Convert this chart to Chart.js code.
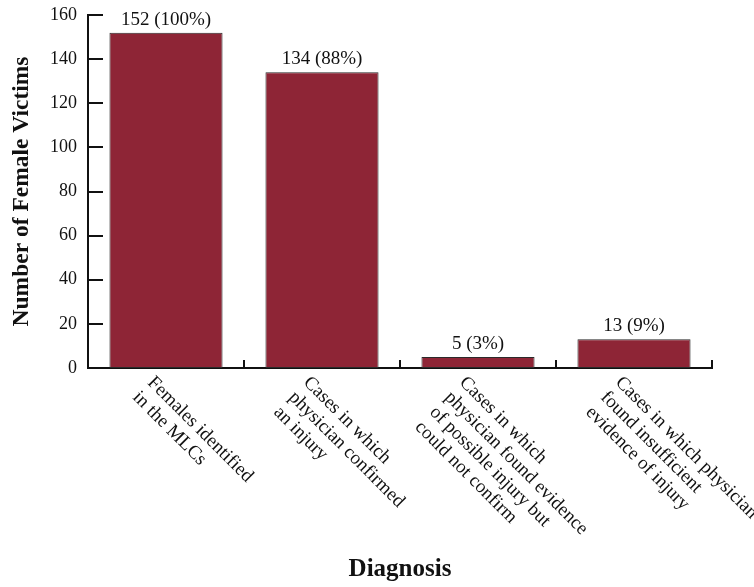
<!DOCTYPE html>
<html>
<head>
<meta charset="utf-8">
<script src="https://cdn.jsdelivr.net/npm/chart.js@4.4.0/dist/chart.umd.min.js"></script>
<style>
  html, body { margin: 0; padding: 0; background: #fff; }
  #wrap { width: 754px; height: 587px; position: relative; }
</style>
</head>
<body>
<div id="wrap"><canvas id="diagChart"></canvas></div>
<script>
// values
const categories = [
	['Females identified', 'in the MLCs'],
	['Cases in which', 'physician confirmed', 'an injury'],
	['Cases in which', 'physician found evidence', 'of possible injury but', 'could not confirm'],
	['Cases in which physician', 'found insufficient', 'evidence of injury']
];
const victims = [152, 134, 5, 13];
const percents = [100, 88, 3, 9];
const yTicks = [0, 20, 40, 60, 80, 100, 120, 140, 160];

const SERIF = '"Liberation Serif", "DejaVu Serif", serif';
const INK = '#111';

// value labels above bars, rotated category labels and inward tick marks
const decorations = {
	id: 'decorations',
	afterDatasetsDraw: (chart) => {
		const ctx = chart.ctx;
		const meta = chart.getDatasetMeta(0);
		ctx.save();
		ctx.font = '19px ' + SERIF;
		ctx.fillStyle = INK;
		ctx.textAlign = 'center';
		ctx.textBaseline = 'alphabetic';
		meta.data.forEach((bar, i) => {
			ctx.fillText(victims[i] + ' (' + percents[i] + '%)', bar.x, bar.y - 8);
		});
		ctx.restore();
	},
	afterDraw: (chart) => {
		const { ctx, chartArea, scales: { x, y } } = chart;
		ctx.save();
		ctx.strokeStyle = INK;
		ctx.lineWidth = 2;

		// y ticks point into the plot
		y.ticks.forEach((t, i) => {
			const py = Math.round(y.getPixelForTick(i));
			ctx.beginPath();
			ctx.moveTo(chartArea.left, py);
			ctx.lineTo(chartArea.left + 15, py);
			ctx.stroke();
		});

		// x ticks at category boundaries, pointing up
		const half = (x.getPixelForTick(1) - x.getPixelForTick(0)) / 2;
		for (let i = 0; i < categories.length; i++) {
			const px = Math.round(x.getPixelForTick(i) + half);
			ctx.beginPath();
			ctx.moveTo(px, chartArea.bottom);
			ctx.lineTo(px, chartArea.bottom - 8);
			ctx.stroke();
		}

		// category labels, rotated 45 degrees clockwise
		ctx.font = '19px ' + SERIF;
		ctx.fillStyle = INK;
		ctx.textAlign = 'left';
		ctx.textBaseline = 'top';
		categories.forEach((lines, i) => {
			const cx = x.getPixelForTick(i);
			ctx.save();
			ctx.translate(cx - 9, chartArea.bottom + 5);
			ctx.rotate(Math.PI / 4);
			lines.forEach((line, j) => ctx.fillText(line, 0, j * 21));
			ctx.restore();
		});
		ctx.restore();
	}
};

new Chart(document.getElementById('diagChart'), {
	type: 'bar',
	data: {
		labels: categories,
		datasets: [{
			label: 'Number of Female Victims',
			data: victims,
			backgroundColor: '#8E2536',
			borderColor: '#2a2a2a',
			borderWidth: 1,
			borderSkipped: false,
			categoryPercentage: 1,
			barPercentage: 0.725
		}]
	},
	options: {
		responsive: true,
		maintainAspectRatio: false,
		animation: false,
		layout: {
			padding: { top: 15, right: 42, left: 0, bottom: 0 }
		},
		plugins: {
			legend: { display: false },
			tooltip: { enabled: false }
		},
		scales: {
			x: {
				grid: { display: false, drawTicks: false },
				border: { display: true, color: INK, width: 2 },
				ticks: { display: false },
				title: {
					display: true,
					text: 'Diagnosis',
					color: INK,
					font: { family: SERIF, size: 25, weight: 'bold' },
					padding: { top: 0, bottom: 2 }
				},
				afterFit: (scale) => { scale.height = 219; }
			},
			y: {
				min: yTicks[0],
				max: yTicks[yTicks.length - 1],
				// tick marks are drawn by the plugin; tickLength only spaces the labels
				grid: { display: false, drawTicks: true, tickLength: 11 },
				border: { display: true, color: INK, width: 2 },
				ticks: {
					stepSize: yTicks[1] - yTicks[0],
					color: INK,
					padding: 0,
					font: { family: SERIF, size: 18 }
				},
				title: {
					display: true,
					text: 'Number of Female Victims',
					color: INK,
					font: { family: SERIF, size: 23.5, weight: 'bold' },
					padding: { top: 8, bottom: 0 }
				},
				afterFit: (scale) => { scale.width = 88; }
			}
		}
	},
	plugins: [decorations]
});
</script>
</body>
</html>
